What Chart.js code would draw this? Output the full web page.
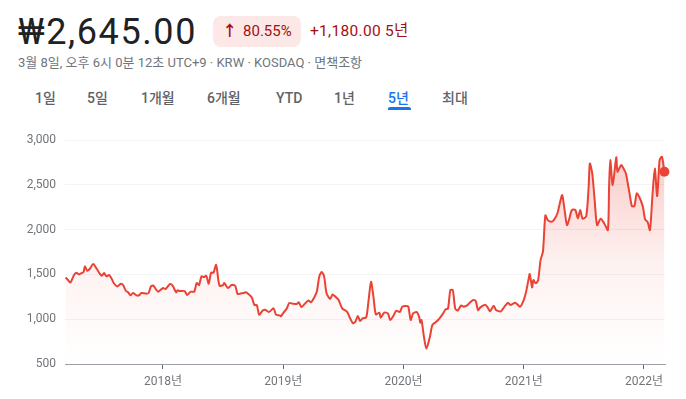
<!DOCTYPE html>
<html>
<head>
<meta charset="utf-8">
<script src="https://cdn.jsdelivr.net/npm/chart.js@4"></script>
<style>
  body { margin: 0; width: 686px; height: 399px; background: #fff; font-family: Roboto, "Noto Sans CJK KR", sans-serif; position: relative; overflow: hidden; }
  .abs { position: absolute; white-space: nowrap; }
  .price { left: 18px; top: 12px; font-size: 36px; line-height: 40px; color: #202124; letter-spacing: 1.6px; }
  .badge { left: 213px; top: 16px; width: 88px; height: 31px; border-radius: 8px; background: #fce8e6; color: #a50e0e; font-size: 15px; line-height: 31px; text-align: center; }
  .badge b { font-weight: 700; margin-right: 2px; }
  .change { left: 310px; top: 16px; line-height: 31px; font-size: 15.5px; color: #a50e0e; letter-spacing: 0.3px; }
  .meta { left: 18px; top: 55px; font-size: 13px; line-height: 16px; color: #70757a; }
  .tab { top: 89px; font-size: 14px; line-height: 18px; font-weight: 500; color: #5f6368; }
  .tab.on { color: #1a73e8; }
  .bar { left: 388px; top: 107px; width: 23px; height: 3px; border-radius: 2px 2px 0 0; background: #1a73e8; }
  canvas { position: absolute; left: 0; top: 120px; }
</style>
</head>
<body>
<div class="abs price">₩2,645.00</div>
<div class="abs badge"><b>↑</b> 80.55%</div>
<div class="abs change">+1,180.00 5년</div>
<div class="abs meta">3월 8일, 오후 6시 0분 12초 UTC+9 · KRW · KOSDAQ · 면책조항</div>
<div class="abs tab" style="left:35px">1일</div>
<div class="abs tab" style="left:87px">5일</div>
<div class="abs tab" style="left:141px">1개월</div>
<div class="abs tab" style="left:207px">6개월</div>
<div class="abs tab" style="left:276px">YTD</div>
<div class="abs tab" style="left:334px">1년</div>
<div class="abs tab on" style="left:388px">5년</div>
<div class="abs tab" style="left:442px">최대</div>
<div class="abs bar"></div>
<canvas id="chart" width="686" height="279"></canvas>
<script>
// dates as decimal years, prices in KRW
const dates = [
  2017.19, 2017.21, 2017.23, 2017.26, 2017.28, 2017.30, 2017.33, 2017.34, 2017.35, 2017.37,
  2017.39, 2017.42, 2017.45, 2017.49, 2017.51, 2017.53, 2017.55, 2017.57, 2017.59, 2017.62,
  2017.65, 2017.67, 2017.69, 2017.71, 2017.73, 2017.75, 2017.78, 2017.80, 2017.82, 2017.86,
  2017.88, 2017.90, 2017.92, 2017.94, 2017.96, 2018.00, 2018.02, 2018.04, 2018.06, 2018.08,
  2018.11, 2018.12, 2018.14, 2018.18, 2018.20, 2018.23, 2018.26, 2018.28, 2018.30, 2018.32,
  2018.34, 2018.36, 2018.38, 2018.40, 2018.42, 2018.44, 2018.45, 2018.47, 2018.50, 2018.51,
  2018.54, 2018.57, 2018.60, 2018.62, 2018.64, 2018.67, 2018.69, 2018.72, 2018.74, 2018.76,
  2018.78, 2018.80, 2018.83, 2018.85, 2018.88, 2018.92, 2018.94, 2018.97, 2018.98, 2019.00,
  2019.03, 2019.05, 2019.08, 2019.11, 2019.13, 2019.15, 2019.18, 2019.21, 2019.23, 2019.26,
  2019.28, 2019.30, 2019.32, 2019.34, 2019.36, 2019.39, 2019.41, 2019.43, 2019.46, 2019.49,
  2019.53, 2019.55, 2019.58, 2019.60, 2019.62, 2019.64, 2019.66, 2019.69, 2019.71, 2019.73,
  2019.75, 2019.77, 2019.80, 2019.81, 2019.84, 2019.87, 2019.89, 2019.92, 2019.94, 2019.97,
  2019.99, 2020.02, 2020.04, 2020.06, 2020.08, 2020.11, 2020.13, 2020.14, 2020.15, 2020.17,
  2020.19, 2020.22, 2020.24, 2020.27, 2020.30, 2020.33, 2020.35, 2020.37, 2020.39, 2020.41,
  2020.43, 2020.45, 2020.48, 2020.50, 2020.53, 2020.55, 2020.58, 2020.60, 2020.62, 2020.64,
  2020.68, 2020.70, 2020.72, 2020.75, 2020.77, 2020.81, 2020.84, 2020.87, 2020.89, 2020.93,
  2020.97, 2021.00, 2021.02, 2021.04, 2021.05, 2021.07, 2021.08, 2021.10, 2021.12, 2021.14,
  2021.16, 2021.18, 2021.20, 2021.23, 2021.25, 2021.28, 2021.30, 2021.32, 2021.34, 2021.36,
  2021.38, 2021.40, 2021.43, 2021.45, 2021.47, 2021.49, 2021.52, 2021.54, 2021.55, 2021.57,
  2021.59, 2021.61, 2021.64, 2021.67, 2021.70, 2021.71, 2021.72, 2021.74, 2021.77, 2021.78,
  2021.81, 2021.83, 2021.85, 2021.88, 2021.90, 2021.92, 2021.94, 2021.96, 2021.99, 2022.01,
  2022.03, 2022.05, 2022.07, 2022.09, 2022.11, 2022.13, 2022.15, 2022.17
];
const prices = [
  1465, 1437, 1410, 1493, 1519, 1500, 1519, 1527, 1590, 1540,
  1560, 1615, 1560, 1485, 1515, 1478, 1493, 1460, 1404, 1366,
  1396, 1378, 1318, 1300, 1266, 1292, 1266, 1266, 1292, 1285,
  1292, 1366, 1374, 1337, 1307, 1348, 1337, 1366, 1392, 1374,
  1300, 1322, 1314, 1314, 1270, 1307, 1307, 1404, 1381, 1478,
  1470, 1485, 1396, 1519, 1519, 1608, 1549, 1374, 1381, 1404,
  1348, 1381, 1374, 1281, 1285, 1292, 1300, 1270, 1240, 1158,
  1158, 1050, 1098, 1106, 1080, 1121, 1050, 1043, 1032, 1069,
  1121, 1180, 1173, 1169, 1188, 1136, 1173, 1210, 1188, 1247,
  1311, 1478, 1527, 1478, 1292, 1225, 1277, 1255, 1218, 1121,
  1084, 1028, 954, 973, 1036, 980, 1010, 1021, 1214, 1418,
  1251, 1054, 1073, 1017, 1073, 1065, 991, 1047, 1095, 1080,
  1140, 1147, 1140, 991, 1065, 1080, 1028, 961, 991, 805,
  671, 805, 935, 969, 1010, 1065, 1110, 1117, 1325, 1325,
  1121, 1095, 1154, 1140, 1154, 1184, 1214, 1206, 1102, 1132,
  1162, 1132, 1088, 1151, 1102, 1088, 1140, 1184, 1158, 1184,
  1140, 1214, 1307, 1444, 1504, 1355, 1437, 1400, 1437, 1660,
  1753, 2158, 2106, 2087, 2106, 2180, 2292, 2385, 2218, 2050,
  2124, 2218, 2218, 2124, 2218, 2121, 2150, 2478, 2738, 2627,
  2329, 2050, 2121, 2069, 1995, 2478, 2776, 2497, 2806, 2646,
  2720, 2683, 2627, 2404, 2262, 2262, 2404, 2367, 2262, 2113,
  2087, 1995, 2367, 2683, 2374, 2776, 2813, 2645
];
const yearTicks = [2018, 2019, 2020, 2021, 2022];
const yTicks = [500, 1000, 1500, 2000, 2500, 3000];

const ctx = document.getElementById('chart').getContext('2d');
const last = prices.length - 1;

new Chart(ctx, {
  type: 'line',
  data: {
    datasets: [{
      data: dates.map((d, i) => ({ x: d, y: prices[i] })),
      borderColor: '#ea4335',
      borderWidth: 2,
      tension: 0.25,
      clip: 8,
      pointRadius: prices.map((p, i) => i === last ? 5 : 0),
      pointBackgroundColor: '#ea4335',
      pointBorderWidth: 0,
      fill: 'start',
      backgroundColor: c => {
        const area = c.chart.chartArea;
        if (!area) return 'rgba(234,67,53,0.1)';
        const g = c.chart.ctx.createLinearGradient(0, area.top, 0, area.bottom);
        g.addColorStop(0, 'rgba(234,67,53,0.30)');
        g.addColorStop(0.55, 'rgba(234,67,53,0.07)');
        g.addColorStop(1, 'rgba(234,67,53,0.0)');
        return g;
      }
    }]
  },
  options: {
    responsive: false,
    animation: false,
    layout: { padding: { top: 20, right: 21, left: 0, bottom: 0 } },
    plugins: { legend: { display: false }, tooltip: { enabled: false } },
    scales: {
      x: {
        type: 'linear',
        min: 2017.185,
        max: 2022.175,
        afterBuildTicks: s => { s.ticks = yearTicks.map(v => ({ value: v })); },
        afterFit: s => { s.height = 35; },
        grid: { drawOnChartArea: false, drawTicks: true, tickLength: 5, color: '#5f6368' },
        border: { display: true, color: '#9aa0a6', width: 1 },
        ticks: {
          autoSkip: false, maxRotation: 0, padding: 6,
          color: '#70757a', font: { family: 'Roboto, "Noto Sans CJK KR"', size: 12 },
          callback: v => v + '년'
        }
      },
      y: {
        min: 500,
        max: 3000,
        afterBuildTicks: s => { s.ticks = yTicks.map(v => ({ value: v })); },
        afterFit: s => { s.width = 65; },
        grid: { color: '#f1f3f4', drawTicks: false },
        border: { display: false },
        ticks: {
          padding: 9,
          color: '#70757a', font: { family: 'Roboto', size: 12 },
          callback: v => v.toLocaleString('en-US')
        }
      }
    }
  }
});
</script>
</body>
</html>
